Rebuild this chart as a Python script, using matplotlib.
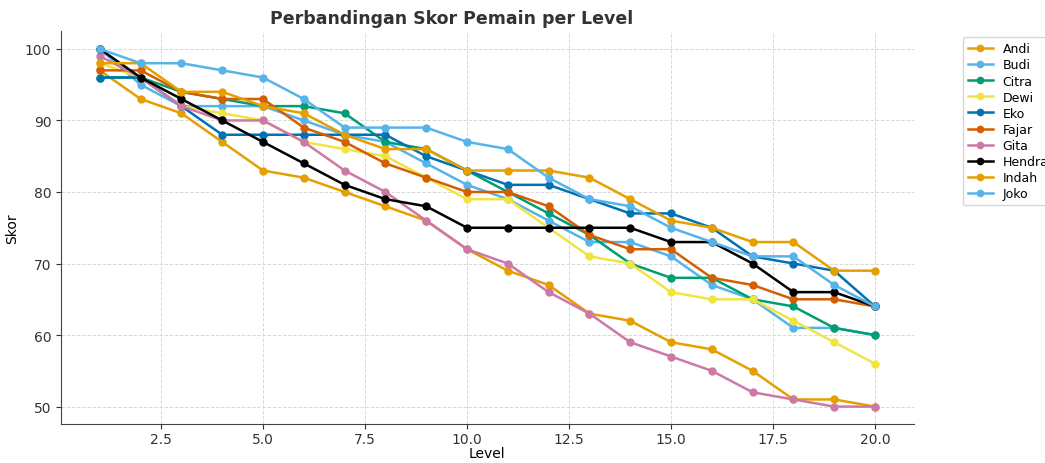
import matplotlib
matplotlib.use("Agg")
import matplotlib.pyplot as plt

levels = list(range(1, 21))
players = ["Andi", "Budi", "Citra", "Dewi", "Eko", "Fajar", "Gita", "Hendra", "Indah", "Joko"]

andi   = [97, 93, 91, 87, 83, 82, 80, 78, 76, 72, 69, 67, 63, 62, 59, 58, 55, 51, 51, 50]
budi   = [100, 95, 92, 92, 92, 90, 88, 87, 84, 81, 79, 76, 73, 73, 71, 67, 65, 61, 61, 60]
citra  = [96, 96, 94, 93, 92, 92, 91, 87, 86, 83, 80, 77, 74, 70, 68, 68, 65, 64, 61, 60]
dewi   = [98, 96, 92, 91, 90, 87, 86, 85, 82, 79, 79, 75, 71, 70, 66, 65, 65, 62, 59, 56]
eko    = [96, 96, 92, 88, 88, 88, 88, 88, 85, 83, 81, 81, 79, 77, 77, 75, 71, 70, 69, 64]
fajar  = [97, 97, 94, 93, 93, 89, 87, 84, 82, 80, 80, 78, 74, 72, 72, 68, 67, 65, 65, 64]
gita   = [99, 96, 92, 90, 90, 87, 83, 80, 76, 72, 70, 66, 63, 59, 57, 55, 52, 51, 50, 50]
hendra = [100, 96, 93, 90, 87, 84, 81, 79, 78, 75, 75, 75, 75, 75, 73, 73, 70, 66, 66, 64]
indah  = [98, 98, 94, 94, 92, 91, 88, 86, 86, 83, 83, 83, 82, 79, 76, 75, 73, 73, 69, 69]
joko   = [100, 98, 98, 97, 96, 93, 89, 89, 89, 87, 86, 82, 79, 78, 75, 73, 71, 71, 67, 64]

scores = [andi, budi, citra, dewi, eko, fajar, gita, hendra, indah, joko]
palette = ["#E69F00", "#56B4E9", "#009E73", "#F0E442", "#0072B2",
           "#D55E00", "#CC79A7", "#000000"]

fig = plt.figure(figsize=(10.45, 4.64), dpi=100)
ax = fig.add_axes([0.0584, 0.083, 0.816, 0.848])

for i, (name, vals) in enumerate(zip(players, scores)):
    ax.plot(levels, vals, marker="o", markersize=5, linewidth=1.8,
            color=palette[i % len(palette)], label=name)

ax.set_title("Perbandingan Skor Pemain per Level", fontsize=12.5, fontweight="bold",
             color="#333333", pad=6, x=0.458)
ax.set_xlabel("Level", fontsize=10, labelpad=0)
ax.set_ylabel("Skor", fontsize=10)
ax.set_yticks([50, 60, 70, 80, 90, 100])
ax.grid(True, linestyle="--", color="#d8d8d8", linewidth=0.7)
ax.spines["top"].set_visible(False)
ax.spines["right"].set_visible(False)
for s in ("left", "bottom"):
    ax.spines[s].set_color("#444444")
ax.tick_params(labelsize=10, colors="#333333")
ax.tick_params(axis="x", pad=2)
ax.legend(loc="upper left", bbox_to_anchor=(1.05, 1.0), fontsize=9, frameon=True,
          labelspacing=0.25, markerscale=0.9)

fig.savefig("out.png", dpi=100)
